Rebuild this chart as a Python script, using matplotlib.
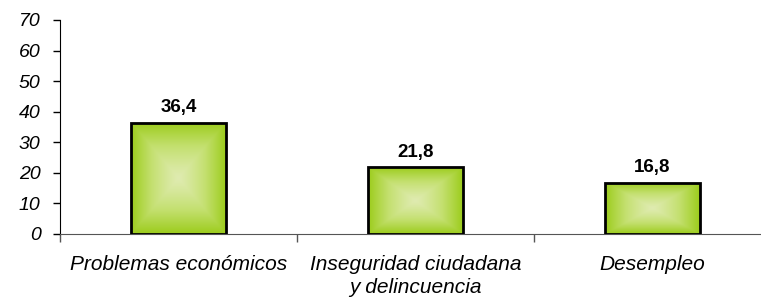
import numpy as np
import matplotlib
matplotlib.use("Agg")
import matplotlib.pyplot as plt
from matplotlib.colors import LinearSegmentedColormap
from matplotlib.patches import Rectangle

categories = ["Problemas económicos", "Inseguridad ciudadana\ny delincuencia", "Desempleo"]
values = [36.4, 21.8, 16.8]
yticks = [0, 10, 20, 30, 40, 50, 60, 70]

plt.rcParams['font.family'] = ['Liberation Sans', 'DejaVu Sans']

fig = plt.figure(figsize=(7.61, 2.99), dpi=100)
ax = fig.add_axes([60/761, 65/299, 711/761, 214/299])

x = np.arange(len(categories))
width = 0.4
cmap = LinearSegmentedColormap.from_list("g", ["#dfebb0", "#c4e070", "#9ccc1c"])

bars = ax.bar(x, values, width=width, color="none", edgecolor="black", linewidth=2, zorder=3)

# Box-gradient fill
n = 200
u = np.linspace(-1, 1, n)
U, V = np.meshgrid(u, u)
G = np.maximum(np.abs(U), np.abs(V))
G = G ** 1.2
for b in bars:
    bx, by = b.get_x(), b.get_y()
    bw, bh = b.get_width(), b.get_height()
    im = ax.imshow(G, cmap=cmap, extent=[bx, bx + bw, by, by + bh], aspect='auto',
                   origin='lower', zorder=2, interpolation='bilinear')
    clip = Rectangle((bx, by), bw, bh, transform=ax.transData)
    im.set_clip_path(clip)

for xi, v in zip(x, values):
    ax.annotate(f"{v:.1f}".replace(".", ","), (xi, v), xytext=(0, 4.5), textcoords="offset points",
                ha="center", va="bottom", fontsize=13.5, fontweight="bold")

ax.set_xlim(-0.5, 2.5)
ax.set_ylim(0, 70)
ax.set_yticks(yticks)
ax.set_yticklabels([str(t) for t in yticks], fontsize=14, fontstyle="italic")
ax.tick_params(axis="y", length=5, width=1, pad=9, colors="black")

ax.set_xticks(x)
ax.set_xticklabels(categories, fontsize=15, fontstyle="italic", linespacing=1.3)
ax.tick_params(axis="x", which="major", length=0, pad=15)
ax.set_xticks([-0.5, 0.5, 1.5, 2.5], minor=True)
ax.tick_params(axis="x", which="minor", length=6, width=1, color="#555555")

ax.spines["top"].set_visible(False)
ax.spines["right"].set_visible(False)
ax.spines["left"].set_color("black")
ax.spines["bottom"].set_color("#555555")

fig.savefig("out.png", dpi=100)
